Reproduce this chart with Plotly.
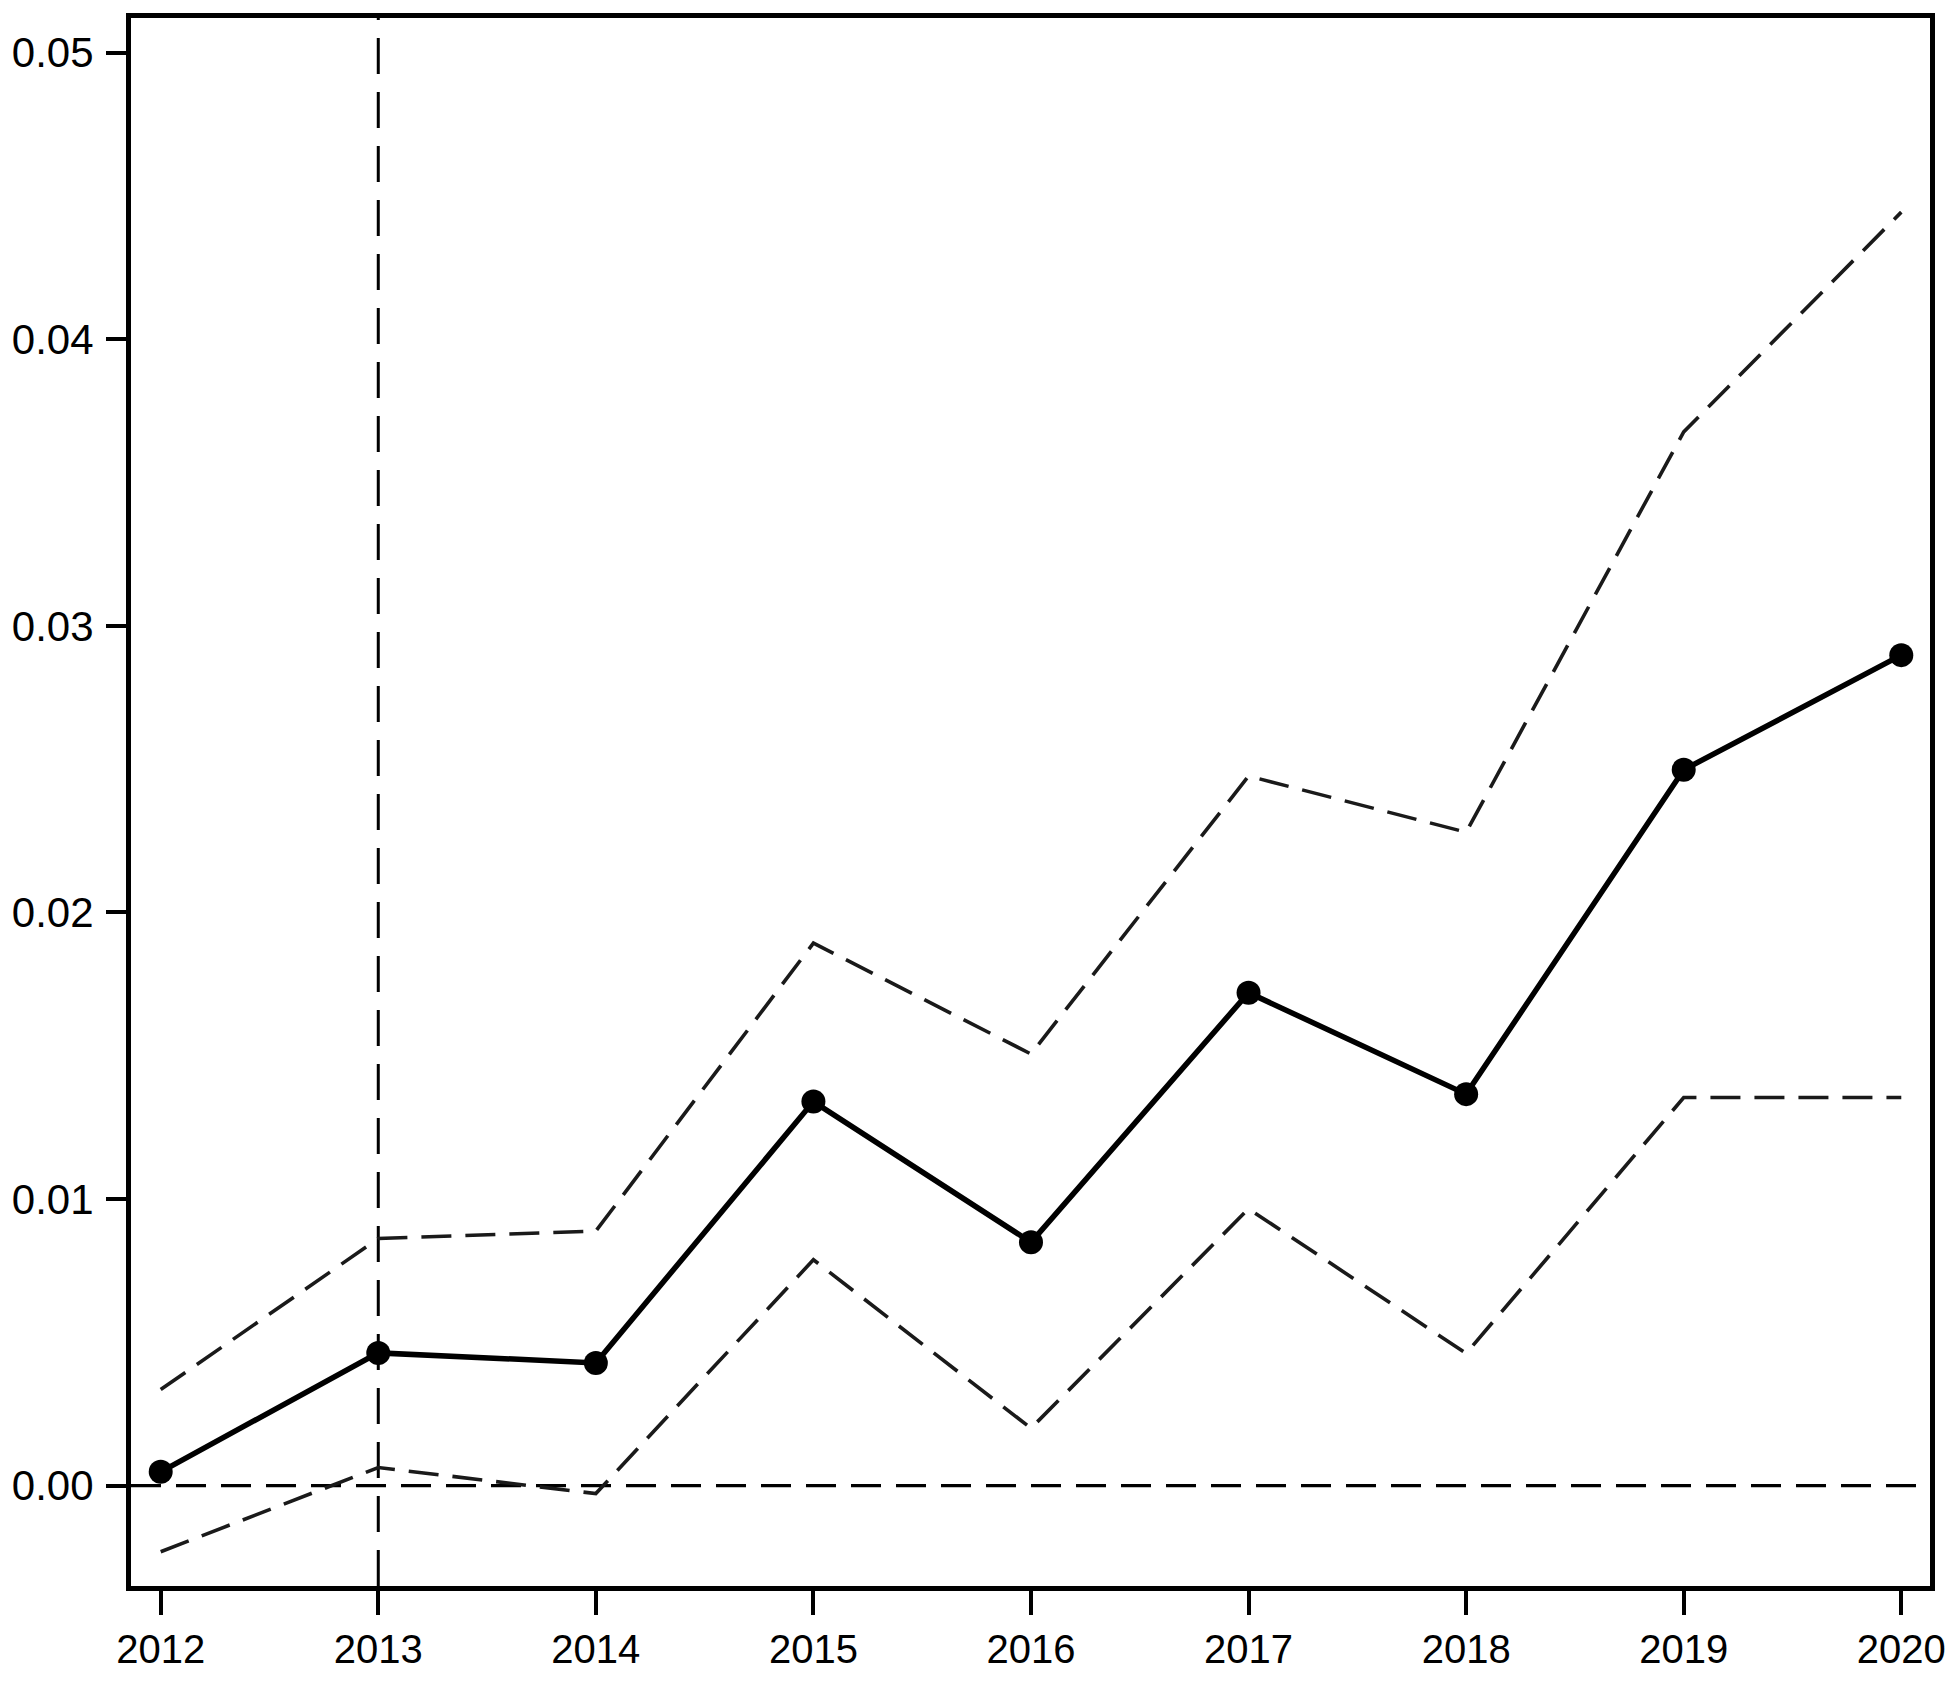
import plotly.graph_objects as go

years = [2012, 2013, 2014, 2015, 2016, 2017, 2018, 2019, 2020]
estimate = [0.00048, 0.00463, 0.00428, 0.01340, 0.00849, 0.01720, 0.01366, 0.02498, 0.02898]
upper_ci = [0.00335, 0.00862, 0.00888, 0.01893, 0.01506, 0.02476, 0.02280, 0.03677, 0.04444]
lower_ci = [-0.00231, 0.00063, -0.00028, 0.00788, 0.00200, 0.00966, 0.00461, 0.01354, 0.01354]
y_ticks = [0.00, 0.01, 0.02, 0.03, 0.04, 0.05]
y_tick_labels = ["0.00", "0.01", "0.02", "0.03", "0.04", "0.05"]
event_year = 2013

FONT = "Liberation Sans, Arial, sans-serif"

fig = go.Figure()
fig.add_trace(go.Scatter(x=years, y=upper_ci, mode="lines",
                         line=dict(color="#1a1a1a", width=3.6, dash="30px,14px"),
                         showlegend=False))
fig.add_trace(go.Scatter(x=years, y=lower_ci, mode="lines",
                         line=dict(color="#1a1a1a", width=3.6, dash="30px,14px"),
                         showlegend=False))
fig.add_trace(go.Scatter(x=years, y=estimate, mode="lines+markers",
                         line=dict(color="black", width=5.5),
                         marker=dict(color="black", size=24),
                         showlegend=False))

fig.add_shape(type="line", xref="paper", yref="y", x0=0, x1=1, y0=0, y1=0,
              line=dict(color="black", width=3.3, dash="30px,15px"), layer="below")
fig.add_shape(type="line", xref="x", yref="paper", x0=event_year, x1=event_year, y0=0, y1=1,
              line=dict(color="black", width=3, dash="36px,18px"), layer="below")

fig.update_layout(
    width=1939, height=1670,
    margin=dict(l=123, r=16.5, t=9.5, b=91.5),
    paper_bgcolor="white", plot_bgcolor="white",
    font=dict(family=FONT, color="black"),
)
fig.update_xaxes(range=[2011.8635, 2020.132], tickvals=years, ticktext=[str(y) for y in years],
                 showgrid=False, zeroline=False, showline=True, linewidth=5, linecolor="black",
                 mirror=True, ticks="outside", ticklen=24, tickwidth=4, tickcolor="black",
                 tickfont=dict(size=40, family=FONT), automargin=False)
fig.update_yaxes(range=[-0.003505, 0.051214], tickvals=y_ticks, ticktext=y_tick_labels,
                 showgrid=False, zeroline=False, showline=True, linewidth=5, linecolor="black",
                 mirror=True, ticks="outside", ticklen=20, tickwidth=4, tickcolor="black",
                 ticklabelstandoff=4,
                 tickfont=dict(size=42, family=FONT), automargin=False)

fig.write_html("out.html")
